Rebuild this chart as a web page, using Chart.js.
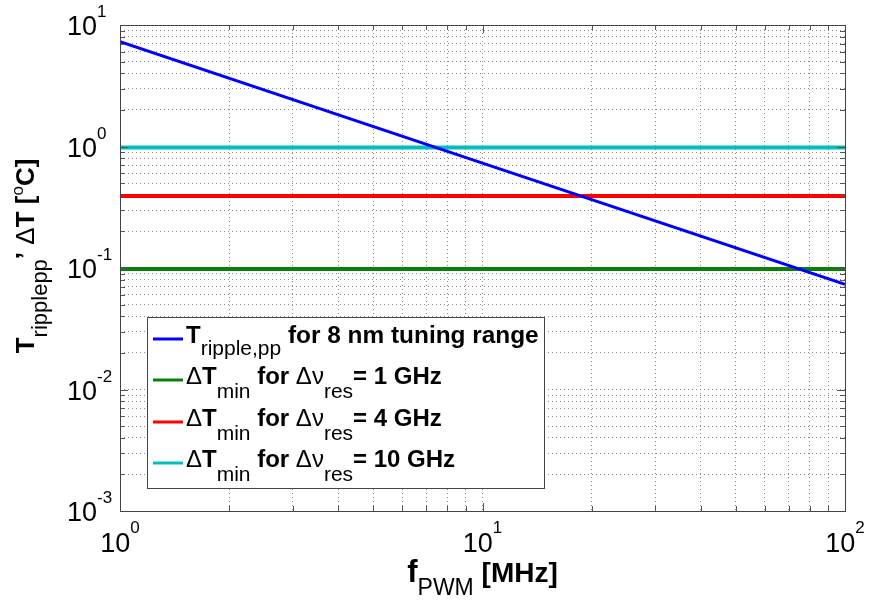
<!DOCTYPE html>
<html>
<head>
<meta charset="utf-8">
<script src="https://cdn.jsdelivr.net/npm/chart.js@4/dist/chart.umd.min.js"></script>
<style>
  body { margin: 0; background: #fff; }
</style>
</head>
<body>
<canvas id="chart" width="869" height="603"></canvas>
<script>
// PWM frequency [MHz] and ripple temperature
const freqs = [1, 10, 100];
const rippleTemp = [7.3, 0.73, 0.0735];

// minimum temperature steps, flat over the whole frequency range
const limitFreqs = [1, 100];
const dTmin1GHz = [0.098, 0.098];
const dTmin4GHz = [0.392, 0.392];
const dTmin10GHz = [0.98, 0.98];

// tick positions (decades plus minor steps) and decade exponents
const xTickValues = [1, 2, 3, 4, 5, 6, 7, 8, 9, 10, 20, 30, 40, 50, 60, 70, 80, 90, 100];
const xMajorValues = [1, 10, 100];
const xTickExps = ['0', '1', '2'];
const yTickValues = [
  0.001, 0.002, 0.003, 0.004, 0.005, 0.006, 0.007, 0.008, 0.009,
  0.01, 0.02, 0.03, 0.04, 0.05, 0.06, 0.07, 0.08, 0.09,
  0.1, 0.2, 0.3, 0.4, 0.5, 0.6, 0.7, 0.8, 0.9,
  1, 2, 3, 4, 5, 6, 7, 8, 9, 10
];
const yMajorValues = [0.001, 0.01, 0.1, 1, 10];
const yTickExps = ['-3', '-2', '-1', '0', '1'];

const FONT = '"Liberation Sans", Arial, Helvetica, sans-serif';
const BLUE = '#0000ff';
const GREEN = '#0a800a';
const RED = '#ff0000';
const CYAN = '#00bfbf';

// legend rows as rich-text pieces (main text and subscripts)
const legendRows = [
  { color: BLUE, parts: [
    { t: 'T', f: 'bold 24px' },
    { t: 'ripple,pp', f: '21px', dy: 12 },
    { t: ' for 8 nm tuning range', f: 'bold 24.4px' }
  ]},
  { color: GREEN, parts: [
    { t: '\u0394', f: '24px' }, { t: 'T', f: 'bold 24px' },
    { t: 'min', f: '21px', dy: 14 },
    { t: ' for ', f: 'bold 24px' },
    { t: '\u0394\u03bd', f: '24px' },
    { t: 'res', f: '21px', dy: 14 },
    { t: '= 1 GHz', f: 'bold 24px' }
  ]},
  { color: RED, parts: [
    { t: '\u0394', f: '24px' }, { t: 'T', f: 'bold 24px' },
    { t: 'min', f: '21px', dy: 14 },
    { t: ' for ', f: 'bold 24px' },
    { t: '\u0394\u03bd', f: '24px' },
    { t: 'res', f: '21px', dy: 14 },
    { t: '= 4 GHz', f: 'bold 24px' }
  ]},
  { color: CYAN, parts: [
    { t: '\u0394', f: '24px' }, { t: 'T', f: 'bold 24px' },
    { t: 'min', f: '21px', dy: 14 },
    { t: ' for ', f: 'bold 24px' },
    { t: '\u0394\u03bd', f: '24px' },
    { t: 'res', f: '21px', dy: 14 },
    { t: '= 10 GHz', f: 'bold 24px' }
  ]}
];

const xTitleParts = [
  { t: 'f', f: 'bold 31px' },
  { t: 'PWM', f: '23px', dy: 13 },
  { t: ' [MHz]', f: 'bold 28px' }
];
const yTitleParts = [
  { t: 'T', f: 'bold 26px' },
  { t: 'ripplepp', f: '22px', dy: 13 },
  { t: '\u2019 ', f: 'bold 26px' },
  { t: '\u0394', f: '26px' },
  { t: 'T [', f: 'bold 26px' },
  { t: 'o', f: '17px', dy: -11 },
  { t: 'C]', f: 'bold 26px' }
];

// draw a list of text pieces one after another, returns end x
function drawParts(ctx, parts, x, y) {
  for (const p of parts) {
    ctx.font = p.f + ' ' + FONT;
    ctx.fillText(p.t, x, y + (p.dy || 0));
    x += ctx.measureText(p.t).width;
  }
  return x;
}

function partsWidth(ctx, parts) {
  let w = 0;
  for (const p of parts) {
    ctx.font = p.f + ' ' + FONT;
    w += ctx.measureText(p.t).width;
  }
  return w;
}

// MATLAB-style decorations: labels with exponents, inner ticks, box, legend
const matlabLook = {
  id: 'matlabLook',
  afterDraw(chart) {
    const ctx = chart.ctx;
    const area = chart.chartArea;
    const xs = chart.scales.x;
    const ys = chart.scales.y;
    ctx.save();
    ctx.fillStyle = '#000';
    ctx.textBaseline = 'alphabetic';
    ctx.textAlign = 'left';

    // y tick labels
    yMajorValues.forEach((v, i) => {
      const py = ys.getPixelForValue(v);
      ctx.font = '27px ' + FONT;
      ctx.fillText('10', 67, py + 10);
      const w = ctx.measureText('10').width;
      ctx.font = '17px ' + FONT;
      ctx.fillText(yTickExps[i], 67 + w, py - 8);
    });

    // x tick labels
    xMajorValues.forEach((v, i) => {
      const px = xs.getPixelForValue(v);
      ctx.font = '27px ' + FONT;
      const w = ctx.measureText('10').width;
      ctx.font = '17px ' + FONT;
      const we = ctx.measureText(xTickExps[i]).width;
      const x0 = px - (w + we) / 2;
      ctx.font = '27px ' + FONT;
      ctx.fillText('10', x0, 552);
      ctx.font = '17px ' + FONT;
      ctx.fillText(xTickExps[i], x0 + w, 533);
    });

    // axis titles
    const xw = partsWidth(ctx, xTitleParts);
    drawParts(ctx, xTitleParts, (area.left + area.right) / 2 - xw / 2, 582);

    const yw = partsWidth(ctx, yTitleParts);
    ctx.save();
    ctx.translate(34, 256 + yw / 2);
    ctx.rotate(-Math.PI / 2);
    drawParts(ctx, yTitleParts, 0, 0);
    ctx.restore();

    // inner tick marks on all four sides
    ctx.strokeStyle = '#555';
    ctx.lineWidth = 1;
    ctx.beginPath();
    xTickValues.forEach(v => {
      const px = Math.round(xs.getPixelForValue(v)) + 0.5;
      const len = xMajorValues.includes(v) ? 8 : 5;
      ctx.moveTo(px, area.bottom); ctx.lineTo(px, area.bottom - len);
      ctx.moveTo(px, area.top); ctx.lineTo(px, area.top + len);
    });
    yTickValues.forEach(v => {
      const py = Math.round(ys.getPixelForValue(v)) + 0.5;
      const len = yMajorValues.includes(v) ? 8 : 5;
      ctx.moveTo(area.left, py); ctx.lineTo(area.left + len, py);
      ctx.moveTo(area.right, py); ctx.lineTo(area.right - len, py);
    });
    ctx.stroke();

    // axes box
    ctx.strokeStyle = '#444';
    ctx.strokeRect(Math.round(area.left) + 0.5, Math.round(area.top) + 0.5,
      Math.round(area.right - area.left), Math.round(area.bottom - area.top));

    // legend
    const lx = 147, ly = 317, lw = 397, lh = 171;
    ctx.fillStyle = '#fff';
    ctx.fillRect(lx, ly, lw, lh);
    ctx.strokeStyle = '#444';
    ctx.strokeRect(lx + 0.5, ly + 0.5, lw, lh);
    const baselines = [343, 384, 426, 467];
    legendRows.forEach((row, i) => {
      const by = baselines[i];
      ctx.strokeStyle = row.color;
      ctx.lineWidth = 3;
      ctx.beginPath();
      ctx.moveTo(153, by - 4);
      ctx.lineTo(183, by - 4);
      ctx.stroke();
      ctx.fillStyle = '#000';
      drawParts(ctx, row.parts, 186, by);
    });
    ctx.restore();
  }
};

function gridAxis(values, extra) {
  return Object.assign({
    type: 'logarithmic',
    afterBuildTicks: scale => { scale.ticks = values.map(v => ({ value: v })); },
    ticks: { display: false, autoSkip: false },
    grid: { color: '#8a8a8a', lineWidth: 1, drawTicks: false },
    border: { display: false, dash: [1, 3] }
  }, extra);
}

new Chart(document.getElementById('chart'), {
  type: 'line',
  data: {
    datasets: [
      { label: 'T ripple,pp', data: freqs.map((f, i) => ({ x: f, y: rippleTemp[i] })),
        borderColor: BLUE, borderWidth: 3 },
      { label: 'dTmin 1 GHz', data: limitFreqs.map((f, i) => ({ x: f, y: dTmin1GHz[i] })),
        borderColor: GREEN, borderWidth: 4 },
      { label: 'dTmin 4 GHz', data: limitFreqs.map((f, i) => ({ x: f, y: dTmin4GHz[i] })),
        borderColor: RED, borderWidth: 4 },
      { label: 'dTmin 10 GHz', data: limitFreqs.map((f, i) => ({ x: f, y: dTmin10GHz[i] })),
        borderColor: CYAN, borderWidth: 4 }
    ]
  },
  options: {
    responsive: false,
    animation: false,
    devicePixelRatio: 1,
    layout: { padding: { top: 25, right: 24, left: 0, bottom: 0 } },
    elements: { point: { radius: 0 }, line: { tension: 0 } },
    plugins: { legend: { display: false }, tooltip: { enabled: false } },
    scales: {
      x: gridAxis(xTickValues, { min: 1, max: 100, afterFit: s => { s.height = 92; } }),
      y: gridAxis(yTickValues, { min: 0.001, max: 10, afterFit: s => { s.width = 120; } })
    }
  },
  plugins: [matlabLook]
});
</script>
</body>
</html>
